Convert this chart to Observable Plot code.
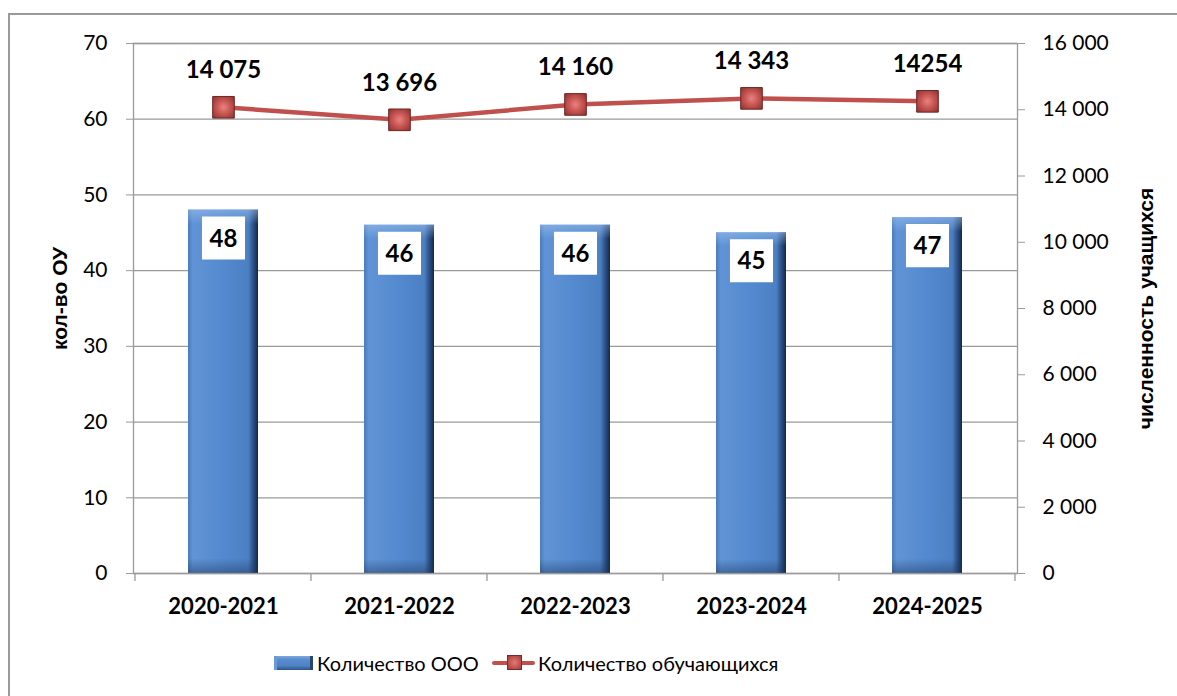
<!DOCTYPE html>
<html>
<head>
<meta charset="utf-8">
<script src="https://cdn.jsdelivr.net/npm/d3@7"></script>
<script src="https://cdn.jsdelivr.net/npm/@observablehq/plot@0.6"></script>
<style>
  html, body { margin: 0; padding: 0; background: #fff; }
  body { width: 1177px; height: 696px; position: relative; overflow: hidden; font-family: Lato, "Open Sans", sans-serif; }
  #chart { position: absolute; left: 0; top: 0; }
  #border { position: absolute; left: 8px; top: 13px; width: 1300px; height: 800px; border-left: 2px solid #9a9a9a; border-top: 2px solid #9a9a9a; pointer-events: none; }
  .legend { position: absolute; top: 650px; left: 0; width: 1177px; height: 26px; font-size: 20px; color: #000; }
  .lg-item { position: absolute; top: 0; height: 26px; line-height: 26px; white-space: nowrap; }
  .sw-bar { position: absolute; top: 6px; width: 39px; height: 14px; background: linear-gradient(to bottom, #7fa8dc 0%, #5a8dd0 25%, #4f81c3 70%, #2f5589 100%); box-shadow: inset -3px 0 0 #26456f, inset 3px 0 0 #6b9ad6; }
  .sw-line { position: absolute; top: 11px; width: 43px; height: 4px; background: #c0504d; border-radius: 2px; }
  .sw-mk { position: absolute; top: 5px; width: 15px; height: 15px; background: radial-gradient(circle, #e07a77 0%, #c0504d 55%, #8e3330 100%); box-shadow: inset 0 0 0 1px #7a2b29; }
</style>
</head>
<body>
<div id="chart"></div>
<div id="border"></div>
<div class="legend">
  <div class="sw-bar" style="left:274px"></div>
  <div class="lg-item" style="left:317px">Количество ООО</div>
  <div class="sw-line" style="left:492px"></div>
  <div class="sw-mk" style="left:507px"></div>
  <div class="lg-item" style="left:538px">Количество обучающихся</div>
</div>
<script>
const years = ["2020-2021", "2021-2022", "2022-2023", "2023-2024", "2024-2025"];
const schools = [48, 46, 46, 45, 47];
const students = [14075, 13696, 14160, 14343, 14254];
const studentLabels = ["14 075", "13 696", "14 160", "14 343", "14254"];
const leftTicks = [0, 10, 20, 30, 40, 50, 60, 70];
const rightTicks = [0, 2000, 4000, 6000, 8000, 10000, 12000, 14000, 16000];
const rightTickLabels = ["0", "2 000", "4 000", "6 000", "8 000", "10 000", "12 000", "14 000", "16 000"];
const leftMax = 70, rightMax = 16000;
const leftTitle = "кол-во ОУ";
const rightTitle = "численность учащихся";

const toLeft = v => v * leftMax / rightMax;
const data = years.map((y, i) => ({year: y, schools: schools[i], students: students[i], label: studentLabels[i], sy: toLeft(students[i])}));
const rightScaled = rightTicks.map(toLeft);
const rightLabelMap = new Map(rightScaled.map((v, i) => [v, rightTickLabels[i]]));

const chart = Plot.plot({
  width: 1177,
  height: 640,
  marginLeft: 133,
  marginRight: 160,
  marginTop: 43,
  marginBottom: 67,
  style: {fontFamily: "Lato, 'Open Sans', sans-serif", fontSize: "21px", background: "transparent", color: "#000", overflow: "visible"},
  x: {type: "band", domain: years, paddingInner: 0.6, paddingOuter: 0.3, label: null},
  y: {domain: [0, leftMax], label: null},
  marks: [
    Plot.gridY(leftTicks, {stroke: "#9a9a9a", strokeOpacity: 1, strokeWidth: 1.3}),
    Plot.barY(data, {x: "year", y: "schools", fill: "url(#barGrad)"}),
    Plot.barY(data, {x: "year", y: "schools", fill: "url(#barShade)"}),
    Plot.frame({stroke: "#9a9a9a", strokeWidth: 1.3}),
    Plot.axisY(leftTicks, {anchor: "left", tickSize: 7, tickPadding: 19, stroke: "#9a9a9a", fill: "#000", fontSize: 21, label: null}),
    Plot.axisY(rightScaled, {anchor: "right", tickSize: 7, tickPadding: 18, stroke: "#9a9a9a", fill: "#000", fontSize: 21, label: null, tickFormat: d => rightLabelMap.get(d)}),
    Plot.axisX({tickSize: 0, tickPadding: 25, fontWeight: "bold", fontSize: 22, label: null}),
    Plot.text([leftTitle], {frameAnchor: "left", textAnchor: "middle", lineAnchor: "middle", dx: -73, dy: -10, rotate: -90, fontWeight: "bold", fontSize: 21, fontFamily: "'Liberation Sans', Arial, sans-serif"}),
    Plot.text([rightTitle], {frameAnchor: "right", textAnchor: "middle", lineAnchor: "middle", dx: 129, rotate: -90, fontWeight: "bold", fontSize: 21, fontFamily: "'Liberation Sans', Arial, sans-serif"}),
    Plot.dot(data, {x: "year", y: "schools", symbol: "square", r: 24.3, fill: "#fff", dy: 28}),
    Plot.text(data, {x: "year", y: "schools", text: d => String(d.schools), dy: 29, fontWeight: "bold", fontSize: 24}),
    Plot.line(data, {x: "year", y: "sy", stroke: "#c0504d", strokeWidth: 4.5}),
    Plot.dot(data, {x: "year", y: "sy", symbol: "square", r: 12.2, fill: "url(#mkGrad)", stroke: "#6e2523", strokeWidth: 1}),
    Plot.text(data, {x: "year", y: "sy", text: "label", dy: -37, fontWeight: "bold", fontSize: 24})
  ]
});

document.getElementById("chart").appendChild(chart);

const svg = d3.select(chart);
svg.insert("defs", ":first-child").html(`
  <linearGradient id="barGrad" x1="0" y1="0" x2="1" y2="0">
    <stop offset="0%" stop-color="#4a7cbd"/>
    <stop offset="7%" stop-color="#6194d6"/>
    <stop offset="50%" stop-color="#5389cf"/>
    <stop offset="86%" stop-color="#4c80c4"/>
    <stop offset="93%" stop-color="#2d5288"/>
    <stop offset="100%" stop-color="#152845"/>
  </linearGradient>
  <linearGradient id="barShade" x1="0" y1="0" x2="0" y2="1">
    <stop offset="0%" stop-color="#9cc0ec" stop-opacity="0.55"/>
    <stop offset="4%" stop-color="#9cc0ec" stop-opacity="0.0"/>
    <stop offset="96%" stop-color="#1c3558" stop-opacity="0.0"/>
    <stop offset="100%" stop-color="#1c3558" stop-opacity="0.45"/>
  </linearGradient>
  <radialGradient id="mkGrad" cx="0.5" cy="0.5" r="0.7">
    <stop offset="0%" stop-color="#e8837f"/>
    <stop offset="45%" stop-color="#c85653"/>
    <stop offset="100%" stop-color="#8a302d"/>
  </radialGradient>
`);

// category boundary ticks below the x axis, from the library's x scale
const xs = chart.scale("x");
const ysc = chart.scale("y");
const y0 = ysc.apply(0);
const step = xs.step;
const bounds = years.map(c => xs.apply(c) + xs.bandwidth / 2 - step / 2);
bounds.push(xs.apply(years[years.length - 1]) + xs.bandwidth / 2 + step / 2);
svg.append("g").selectAll("line").data(bounds).join("line")
  .attr("x1", d => d).attr("x2", d => d)
  .attr("y1", y0).attr("y2", y0 + 8)
  .attr("stroke", "#9a9a9a").attr("stroke-width", 1.3);
</script>
</body>
</html>
